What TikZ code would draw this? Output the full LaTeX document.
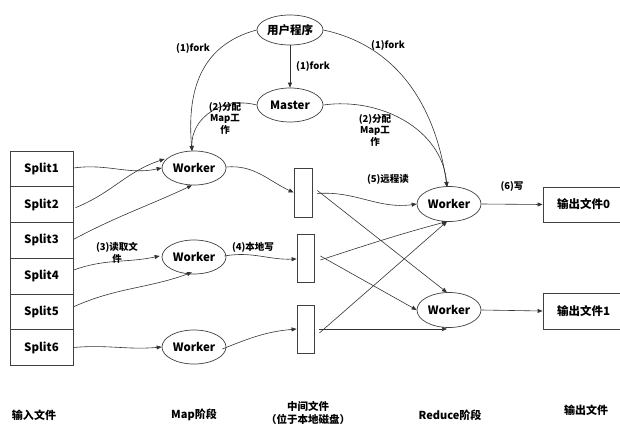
\documentclass[tikz,border=0pt]{standalone}
\usepackage{fontspec}
\setmainfont{Noto Sans CJK SC}
\usetikzlibrary{shapes.geometric,arrows.meta}
\tikzset{
  ell/.style={ellipse,draw=black!75,line width=0.7pt,inner sep=0pt,font=\fontsize{11.5}{13}\selectfont\bfseries},
  boxnode/.style={rectangle,draw=black!75,line width=0.9pt,inner sep=0pt,font=\fontsize{11.5}{13}\selectfont\bfseries},
  interbox/.style={rectangle,draw=black!75,line width=0.8pt,inner sep=0pt,minimum width=17pt,minimum height=48pt},
  con/.style={draw=black!80,line width=0.6pt,-{Triangle[length=5pt,width=4pt]}},
  lbl/.style={inner sep=0pt,align=center,font=\fontsize{9.5}{11.5}\selectfont\bfseries},
  stage/.style={inner sep=0pt,align=center,font=\fontsize{11}{13}\selectfont\bfseries}
}
\begin{document}
\begin{tikzpicture}[x=1pt,y=-1pt]
\useasboundingbox (0,0) rectangle (620,428);
% ellipses
\node[ell,minimum width=66pt,minimum height=30pt] (user) at (290,30) {用户程序};
\node[ell,minimum width=66pt,minimum height=34pt] (master) at (290,105) {Master};
\node[ell,minimum width=64pt,minimum height=34pt] (mw1) at (194,168) {Worker};
\node[ell,minimum width=64pt,minimum height=34pt] (mw2) at (194,257) {Worker};
\node[ell,minimum width=64pt,minimum height=34pt] (mw3) at (194,347) {Worker};
\node[ell,minimum width=64pt,minimum height=35pt] (rw1) at (449,204) {Worker};
\node[ell,minimum width=64pt,minimum height=35pt] (rw2) at (449,310) {Worker};
% splits
\node[boxnode,minimum width=63pt,minimum height=35.7pt] (s1) at (41.5,169) {Split1};
\node[boxnode,minimum width=63pt,minimum height=35.7pt] (s2) at (41.5,204.7) {Split2};
\node[boxnode,minimum width=63pt,minimum height=35.7pt] (s3) at (41.5,240.4) {Split3};
\node[boxnode,minimum width=63pt,minimum height=35.7pt] (s4) at (41.5,276.1) {Split4};
\node[boxnode,minimum width=63pt,minimum height=35.7pt] (s5) at (41.5,311.8) {Split5};
\node[boxnode,minimum width=63pt,minimum height=35.7pt] (s6) at (41.5,347.5) {Split6};
% intermediate files
\node[interbox,minimum width=18pt,minimum height=49pt] (r1) at (303,192.5) {};
\node[interbox] (r2) at (305.5,258) {};
\node[interbox] (r3) at (305.5,329) {};
% outputs
\node[boxnode,minimum width=80pt,minimum height=35pt,text width=80pt,align=left] (o0) at (583,204.5) {\hspace{14pt}输出文件0};
\node[boxnode,minimum width=80pt,minimum height=36pt,text width=80pt,align=left] (o1) at (583,311) {\hspace{14pt}输出文件1};
% coordinates on nodes
\coordinate (mw1top) at (192,151);
\coordinate (rw1top) at (447,187);
\coordinate (rw1bot) at (447,221.5);
\coordinate (rw2top) at (447,292.5);
\coordinate (rw2bot) at (447,329);
% forks
\draw[con] (user.south) -- (master.north);
\draw[con] (user.west) to[out=195,in=95,looseness=1.1] (mw1top);
\draw[con] (master.west) to[out=165,in=92,looseness=1.1] (mw1top);
\draw[con] (user.east) to[out=-12,in=98,looseness=1] (rw1top);
\draw[con] (master.east) to[out=8,in=95,looseness=1] (rw1top);
% splits to map workers
\draw[con] (s1.east) ++(0,-1) to[out=8,in=192] (mw1.west);
\draw[con] ([yshift=-3pt]s2.east) ++(2,0) to[out=22,in=198] ([xshift=3pt,yshift=9pt]mw1.west);
\draw[con] ([yshift=1pt]s3.east) to[out=28,in=205] ([xshift=-2pt]mw1.south);
\draw[con] ([yshift=6pt]s4.east) to[out=20,in=192] ([xshift=-2pt,yshift=1pt]mw2.west);
\draw[con] ([yshift=5pt]s5.east) to[out=24,in=200] ([xshift=-2pt,yshift=2pt]mw2.south);
\draw[con] (s6.east) to[out=5,in=185] (mw3.west);
% map workers to intermediate files
\draw[con] ([yshift=1pt]mw1.east) to[out=5,in=155] (r1.west);
\draw[con] ([yshift=1pt,xshift=-2pt]mw2.east) to[out=10,in=182] ([yshift=-1pt]r2.west);
\draw[con] ([yshift=-2pt,xshift=-4pt]mw3.east) to[out=22,in=185] (r3.west);
% intermediate to reduce workers
\draw[con] ([xshift=5pt,yshift=-1pt]r1.east) to[out=4,in=188] (rw1.west);
\draw[con] ([xshift=5pt,yshift=2pt]r1.east) -- (rw2top);
\draw[con] ([xshift=6pt,yshift=-2pt]r2.east) to[out=18,in=195] (rw1bot);
\draw[con] ([xshift=6pt,yshift=2pt]r2.east) -- (rw2.west);
\draw[con] ([xshift=5pt,yshift=-4pt]r3.east) -- (rw1bot);
\draw[con] ([xshift=5pt]r3.east) -- (rw2bot);
% reduce to outputs
\draw[con] (rw1.east) -- (o0.west);
\draw[con] (rw2.east) -- (o1.west);
% labels
\node[lbl] (lf1) at (193,48) {(1)fork};
\node[lbl] (lf2) at (313,66) {(1)fork};
\node[lbl] (lf3) at (388,45) {(1)fork};
\node[lbl] (la1) at (225,118) {(2)分配\\Map工\\作};
\node[lbl] (la2) at (375,130) {(2)分配\\Map工\\作};
\node[lbl] (lr) at (117,253) {(3)读取文\\件};
\node[lbl] (lw) at (253,247) {(4)本地写};
\node[lbl] (lrr) at (388,179) {(5)远程读};
\node[lbl] (lww) at (512,186) {(6)写};
% stage labels
\node[stage] (st1) at (34,415) {输入文件};
\node[stage] (st2) at (194,415) {Map阶段};
\node[stage,font=\fontsize{10.5}{12.5}\selectfont\bfseries] (st3) at (308,413) {中间文件\\（位于本地磁盘）};
\node[stage] (st4) at (450,415) {Reduce阶段};
\node[stage] (st5) at (586,410) {输出文件};
\end{tikzpicture}
\end{document}
